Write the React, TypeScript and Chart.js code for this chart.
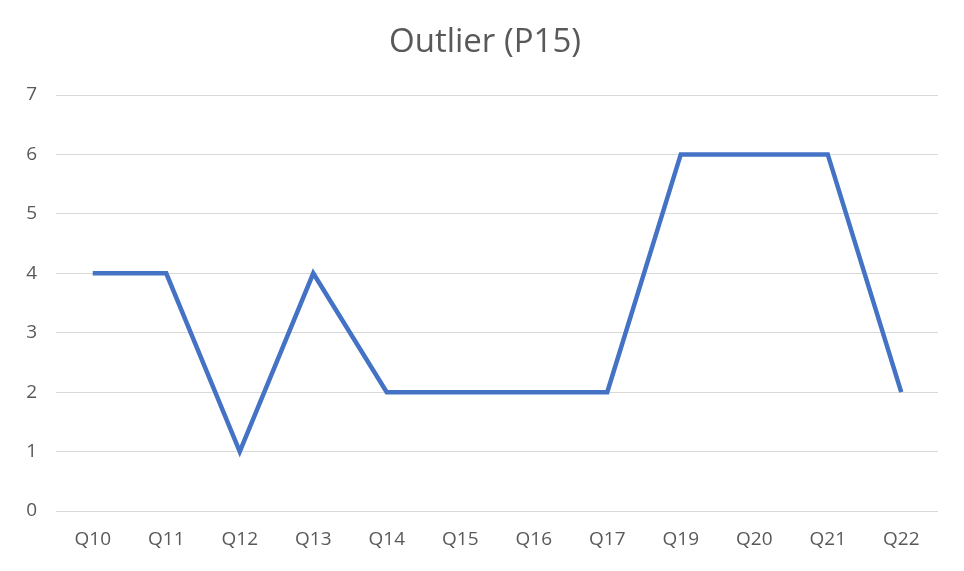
import React, { useEffect, useRef } from "react";
import { Chart, registerables } from "chart.js";

Chart.register(...registerables);

const categories = ["Q10", "Q11", "Q12", "Q13", "Q14", "Q15", "Q16", "Q17", "Q19", "Q20", "Q21", "Q22"];
const seriesValues = [4, 4, 1, 4, 2, 2, 2, 2, 6, 6, 6, 2];
const yTicks = [0, 1, 2, 3, 4, 5, 6, 7];
const titleText = "Outlier (P15)";

export default function App() {
  const ref = useRef<HTMLCanvasElement | null>(null);
  useEffect(() => {
    document.body.style.margin = "0";
    const ctx = ref.current!;
    const font = "'Open Sans', 'Liberation Sans', sans-serif";
    const titlePlugin = {
      id: "centeredTitle",
      afterDraw(chart: any) {
        const c = chart.ctx;
        c.save();
        c.fillStyle = "#595959";
        c.font = `33px ${font}`;
        c.textAlign = "center";
        c.textBaseline = "alphabetic";
        c.fillText(titleText, chart.width / 2 + 3, 52);
        c.restore();
      },
    };
    const chart = new Chart(ctx, {
      type: "line",
      data: {
        labels: categories,
        datasets: [
          {
            label: "P15",
            data: seriesValues,
            borderColor: "#4472C4",
            backgroundColor: "#4472C4",
            borderWidth: 4.5,
            pointRadius: 0,
            tension: 0,
            fill: false,
          },
        ],
      },
      options: {
        responsive: false,
        animation: false,
        layout: { padding: { left: 0, right: 26, top: 95, bottom: 0 } },
        plugins: {
          legend: { display: false },
          tooltip: { enabled: false },
          title: { display: false },
        },
        scales: {
          x: {
            type: "category",
            offset: true,
            grid: { display: false, drawTicks: false },
            border: { display: false },
            ticks: {
              color: "#595959",
              font: { family: font, size: 19 },
              padding: 17,
              maxRotation: 0,
              autoSkip: false,
            },
            afterFit: (s: any) => {
              s.height = 60;
            },
          },
          y: {
            min: 0,
            max: 7,
            afterBuildTicks: (s: any) => {
              s.ticks = yTicks.map((v) => ({ value: v }));
            },
            grid: { color: "#d9d9d9", lineWidth: 1, drawTicks: false },
            border: { display: false },
            ticks: {
              color: "#595959",
              font: { family: font, size: 19 },
              padding: 19,
            },
            afterFit: (s: any) => {
              s.width = 56;
            },
          },
        },
      },
      plugins: [titlePlugin],
    });
    return () => chart.destroy();
  }, []);
  return (
    <div style={{ position: "absolute", left: 0, top: 0, width: 964, height: 571, background: "#fff" }}>
      <canvas ref={ref} width={964} height={571} style={{ width: 964, height: 571 }} />
    </div>
  );
}
